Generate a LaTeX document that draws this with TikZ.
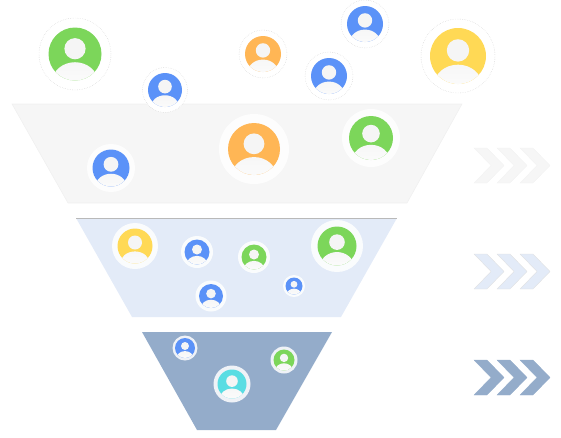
\documentclass[tikz,border=0pt]{standalone}
\usepackage{tikz}
\usepackage{xcolor}
\definecolor{fungray}{HTML}{F6F6F6}
\definecolor{funpale}{HTML}{E3EBF8}
\definecolor{funslate}{HTML}{94ACCA}
\definecolor{avgreen}{HTML}{7CD65A}
\definecolor{avblue}{HTML}{5B92F8}
\definecolor{avorange}{HTML}{FFB655}
\definecolor{avyellow}{HTML}{FFD955}
\definecolor{avcyan}{HTML}{5ADDE3}
\definecolor{avface}{HTML}{F5F5F5}

\begin{document}
\begin{tikzpicture}[
  x=0.75pt, y=-0.75pt,
  topband/.style = {fill=fungray, draw=gray!12, line width=0.4pt},
  midband/.style = {fill=funpale},
  lowband/.style = {fill=funslate},
  rimline/.style = {draw=gray!55, line width=0.5pt},
  looseharo/.style = {fill=white, draw=gray!45, densely dotted, line width=0.3pt},
  softharo/.style = {fill=white, fill opacity=0.85},
  facepart/.style = {fill=avface},
  bodypart/.style = {top color=avface, bottom color=white},
]
\useasboundingbox (0,0) rectangle (561,437);

% ---------- funnel bands ----------
\filldraw[topband] (12,104) -- (462,104) -- (407,203) -- (68,203) -- cycle;
\fill[midband] (76,218) -- (397,218) -- (341,317) -- (132,317) -- cycle;
\draw[rimline] (76,218) -- (397,218);
\fill[lowband] (142,332) -- (332,332) -- (276,430) -- (197,430) -- cycle;

% ---------- chevrons ----------
\foreach \rowy/\rowcol/\rowrim in {148/fungray/gray!10, 254/funpale/gray!25, 360/funslate/funslate}
  \foreach \colx in {474,497,520}
    \filldraw[fill=\rowcol, draw=\rowrim, line width=0.25pt]
      (\colx,\rowy) -- ++(13,0) -- ++(17,17.5) -- ++(-17,17.5) -- ++(-13,0) -- ++(17,-17.5) -- cycle;

% ---------- people: x / y / face radius / ring radius / colour / ring style ----------
\foreach \px/\py/\pr/\ring/\pcol/\rstyle in {
    75/54/26.5/36/avgreen/looseharo,
    165/90/17/22.5/avblue/looseharo,
    263/54/18/24/avorange/looseharo,
    365/24/18/24/avblue/looseharo,
    329/76/18/24/avblue/looseharo,
    458/56/28/37/avyellow/looseharo,
    111/168/18.5/24/avblue/softharo,
    254/149/26/35/avorange/softharo,
    371/138/22/29/avgreen/softharo,
    135/246/17.5/23/avyellow/softharo,
    197/252/12.5/16/avblue/softharo,
    254/257/12.5/16/avgreen/softharo,
    337/246/19.5/26/avgreen/softharo,
    294/286/8.5/11/avblue/softharo,
    211/296/12/15.5/avblue/softharo,
    185/348/10/12.5/avblue/softharo,
    284/360/10.5/13.5/avgreen/softharo,
    232/384/14.5/18.5/avcyan/softharo} {
  \path[\rstyle] (\px,\py) circle (\ring);
  \fill[\pcol] (\px,\py) circle (\pr);
  \begin{scope}
    \clip (\px,\py) circle (\pr);
    \path[bodypart] (\px,\py) ++(0,1.03*\pr) ellipse ({0.85*\pr} and {0.72*\pr});
  \end{scope}
  \fill[facepart] (\px,\py) ++(0,-0.2*\pr) circle ({0.4*\pr});
}

\end{tikzpicture}
\end{document}
